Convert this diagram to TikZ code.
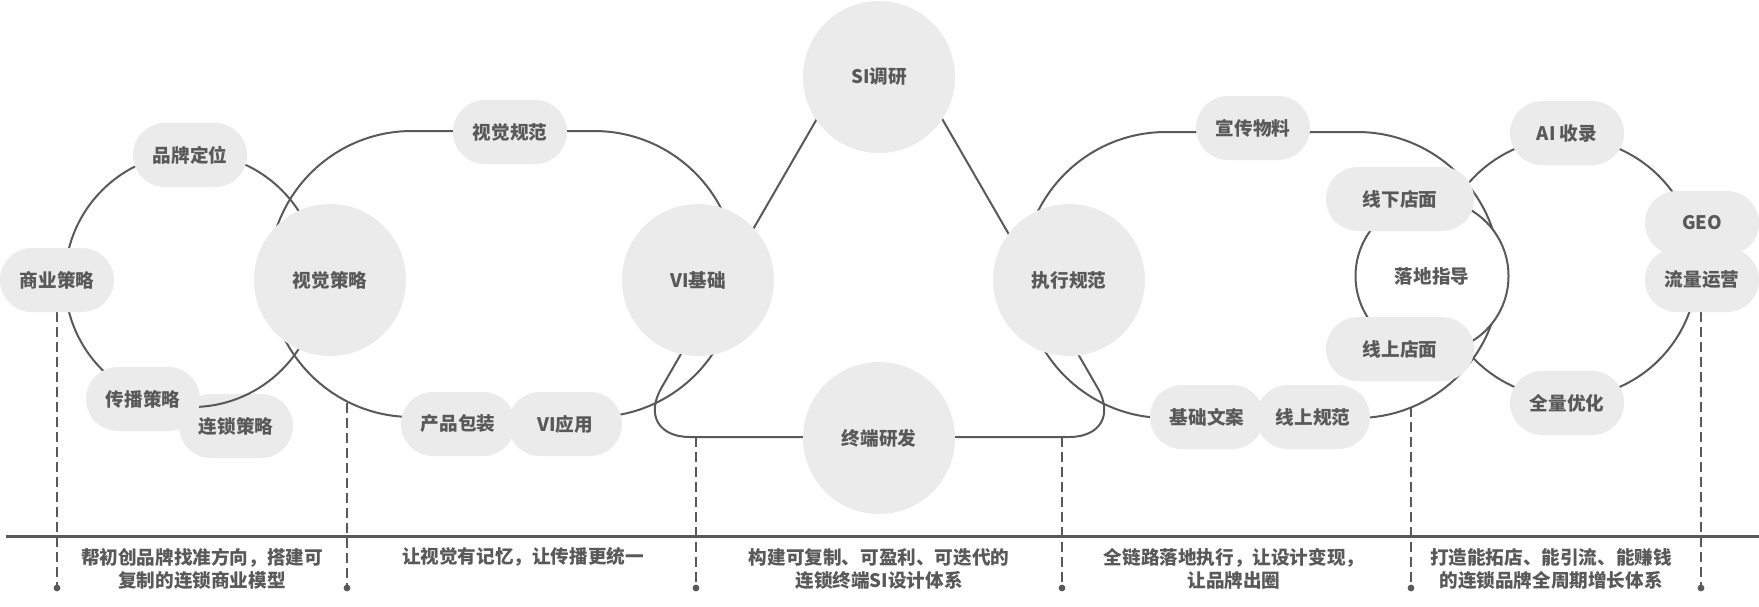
\documentclass[tikz,border=0pt]{standalone}
\usepackage{fontspec}
\setmainfont{Noto Sans CJK SC}
\definecolor{pillfill}{HTML}{EBEBEB}
\definecolor{linec}{HTML}{595959}
\definecolor{txt}{HTML}{595959}
\pgfdeclarelayer{pillback}
\pgfdeclarelayer{lines}
\pgfdeclarelayer{ringwhite}
\pgfsetlayers{pillback,lines,ringwhite,main}
\begin{document}
\begin{tikzpicture}[x=0.5pt,y=-0.5pt,
  font=\fontsize{9.3pt}{11.3pt}\selectfont\bfseries, text=txt,
  pill/.style={rectangle, rounded corners=16pt, fill=pillfill, minimum width=57pt, minimum height=32pt, inner sep=0pt},
  widepill/.style={pill, minimum width=74pt},
  bigc/.style={circle, fill=pillfill, minimum size=76pt, inner sep=0pt},
  conn/.style={draw=linec, line width=1pt},
  guide/.style={draw=linec, line width=1pt, dash pattern=on 5pt off 2.5pt},
  dotm/.style={circle, fill=linec, minimum size=3.4pt, inner sep=0pt},
  note/.style={align=center, inner sep=0pt}
]
\useasboundingbox (0,0) rectangle (1759,606);

% pill under the left ring
\begin{pgfonlayer}{pillback}
\node[pill] (ls) at (236,426) {连锁策略};
\end{pgfonlayer}

% main nodes
\node[pill] (sy) at (57,280) {商业策略};
\node[pill] (pp) at (190,155) {品牌定位};
\node[pill] (cb) at (143,399) {传播策略};
\node[bigc] (sjcl) at (330,280) {视觉策略};
\node[pill] (sjgf) at (510,132) {视觉规范};
\node[pill] (cpbz) at (458,424) {产品包装};
\node[pill] (viyy) at (565,424) {VI应用};
\node[bigc] (vijc) at (698,280) {VI基础};
\node[bigc] (si) at (879,77) {SI调研};
\node[bigc] (zd) at (879,438) {终端研发};
\node[bigc] (zx) at (1069,280) {执行规范};
\node[pill] (xc) at (1253,128) {宣传物料};
\node[pill] (jcwa) at (1207,417) {基础文案};
\node[pill] (xsgf) at (1313,417) {线上规范};
\node[widepill] (xxdm) at (1400,199) {线下店面};
\node[widepill] (xsdm) at (1400,349) {线上店面};
\node[pill] (ai) at (1567,133) {AI 收录};
\node[pill] (geo) at (1702,223) {GEO};
\node[pill] (ll) at (1702,280) {流量运营};
\node[pill] (qlyh) at (1567,403) {全量优化};

\begin{pgfonlayer}{ringwhite}
\node[circle, draw=linec, line width=1pt, fill=white, minimum size=76.5pt, inner sep=0pt] (ldzd) at (1432,276) {落地指导};
\end{pgfonlayer}

% loops
\begin{pgfonlayer}{lines}
\draw[conn] (192,280) circle[radius=63.5pt];
\draw[conn, rounded corners=71.5pt] (269,131) rectangle (737,417);
\draw[conn, rounded corners=28.5pt] (879.5,10.5) -- (633,437) -- (1126,437) -- cycle;
\draw[conn, rounded corners=71.5pt] (1023,132) rectangle (1500,418);
\draw[conn] (1567,268) circle[radius=65pt];
\end{pgfonlayer}

% axis
\coordinate (axL) at (6,536);
\coordinate (axR) at (1759,536);
\draw[draw=linec, line width=1.5pt] (axL) -- (axR);

% guide tops and dots
\coordinate (t2) at (347,403);
\coordinate (t3) at (696,437);
\coordinate (t4) at (1062,437);
\coordinate (t5) at (1411,407);
\node[dotm] (d1) at (57,588) {};
\node[dotm] (d2) at (347,588) {};
\node[dotm] (d3) at (696,588) {};
\node[dotm] (d4) at (1062,588) {};
\node[dotm] (d5) at (1411,588) {};
\node[dotm] (d6) at (1701,588) {};
\begin{pgfonlayer}{lines}
\draw[guide] (sy.south) -- (d1.center);
\draw[guide] (t2) -- (d2.center);
\draw[guide] (t3) -- (d3.center);
\draw[guide] (t4) -- (d4.center);
\draw[guide] (t5) -- (d5.center);
\draw[guide] (ll.south -| d6) -- (d6.center);
\end{pgfonlayer}

% notes
\node[note] (n1) at (202,569) {帮初创品牌找准方向，搭建可\\复制的连锁商业模型};
\node[note] (n2) at (523,557) {让视觉有记忆，让传播更统一};
\node[note] (n3) at (879,569) {构建可复制、可盈利、可迭代的\\连锁终端SI设计体系};
\node[note] (n4) at (1234,569) {全链路落地执行，让设计变现，\\让品牌出圈};
\node[note] (n5) at (1551,569) {打造能拓店、能引流、能赚钱\\的连锁品牌全周期增长体系};
\end{tikzpicture}
\end{document}
